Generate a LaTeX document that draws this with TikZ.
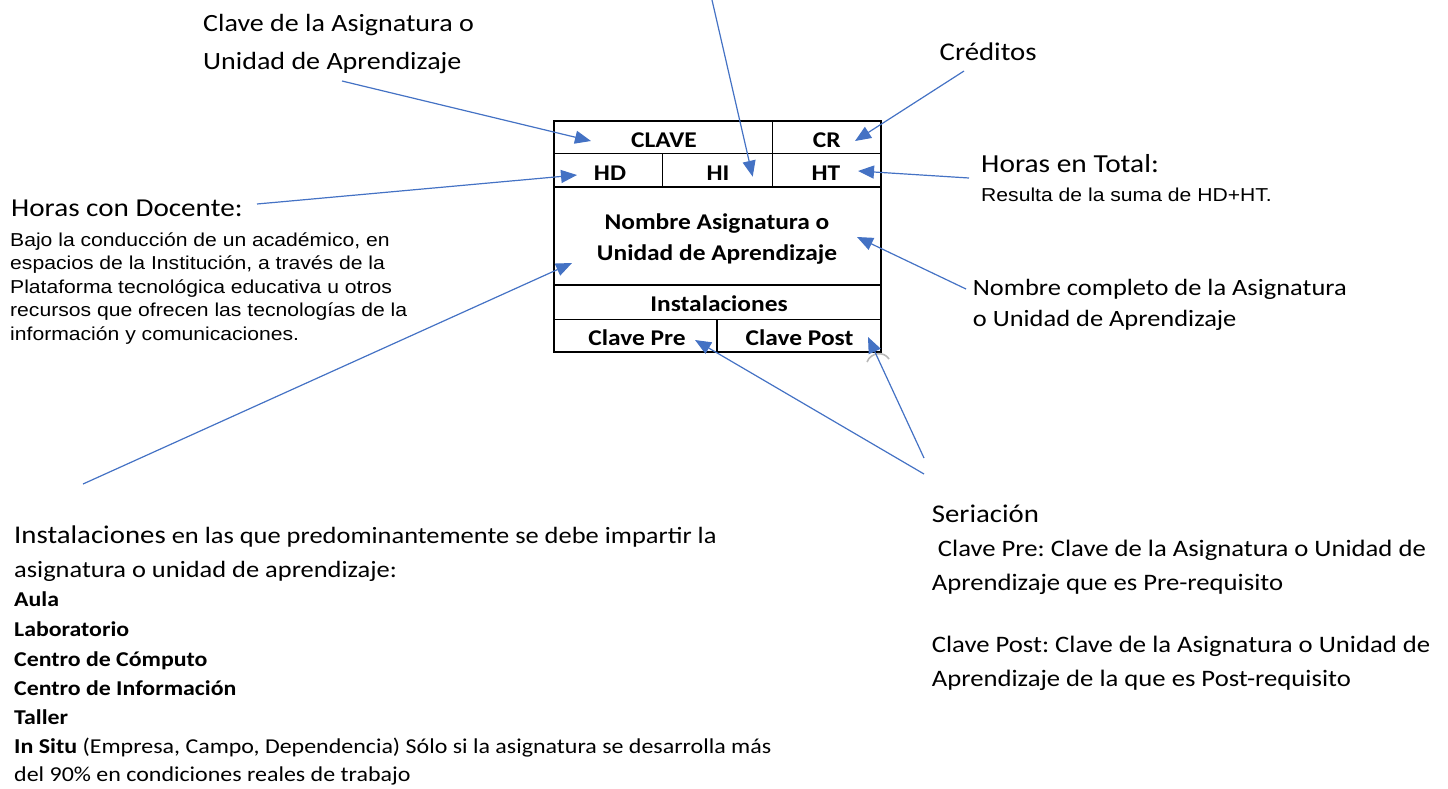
\documentclass[tikz,border=0pt]{standalone}
\usepackage{fontspec}
\usetikzlibrary{arrows.meta}
\newfontfamily\calfont[FakeStretch=1.13]{Carlito}
\newfontfamily\arifont[FakeStretch=1.13]{Liberation Sans}
\definecolor{arrowblue}{HTML}{4472C4}
\frenchspacing
\tikzset{
  lbl/.style={anchor=base west, inner sep=0pt, font=\calfont\fontsize{25.5}{30}\selectfont},
  body/.style={anchor=base west, inner sep=0pt, font=\arifont\fontsize{18.7}{22}\selectfont},
  low/.style={anchor=base west, inner sep=0pt, font=\calfont\fontsize{23.4}{28}\selectfont},
  lowb/.style={anchor=base west, inner sep=0pt, font=\calfont\bfseries\fontsize{21.1}{26}\selectfont},
  lows/.style={anchor=base west, inner sep=0pt, font=\calfont\fontsize{21.2}{26}\selectfont},
  ser/.style={anchor=base west, inner sep=0pt, font=\calfont\fontsize{23.6}{28}\selectfont},
  cell/.style={anchor=base, inner sep=0pt, font=\calfont\bfseries\fontsize{22.5}{27}\selectfont},
  grid/.style={line width=1.7pt, draw=black},
  pointer/.style={draw=arrowblue, line width=1.2pt, -{Triangle[length=16pt,width=13pt]}},
}
\begin{document}
\begin{tikzpicture}[x=1pt,y=-1pt]
\useasboundingbox (0,0) rectangle (1448,788);
% ---- the card ----
\draw[grid] (554,121) rectangle (881,352);
\draw[grid] (554,153.5) -- (881,153.5);
\draw[grid] (554,187) -- (881,187);
\draw[grid] (554,285) -- (881,285);
\draw[grid] (554,319.5) -- (881,319.5);
\draw[grid] (772.5,121) -- (772.5,187);
\draw[grid] (662.5,153.5) -- (662.5,187);
\draw[grid] (717,319.5) -- (717,352);
\node[cell] (cClave) at (664,147.3) {CLAVE};
\node[cell] (cCR) at (826.7,147.3) {CR};
\node[cell] (cHD) at (610,180) {HD};
\node[cell] (cHI) at (718,180) {HI};
\node[cell] (cHT) at (826,180) {HT};
\node[cell] (cNom1) at (717,229.3) {Nombre Asignatura o};
\node[cell] (cNom2) at (717,260.7) {Unidad de Aprendizaje};
\node[cell] (cInst) at (719,311.7) {Instalaciones};
\node[cell] (cPre) at (637,345) {Clave Pre};
\node[cell] (cPost) at (799.5,345) {Clave Post};
% small grey handle mark
\draw[gray!55, line width=1.6pt] (867,362) .. controls (871,352) and (884,351) .. (889,359);
% ---- labels ----
\node[lbl, font=\calfont\fontsize{24.8}{30}\selectfont] (tClave1) at (203,31) {Clave de la Asignatura o};
\node[lbl, font=\calfont\fontsize{24.8}{30}\selectfont] (tClave2) at (203,69) {Unidad de Aprendizaje};
\node[lbl] (tCred) at (939.5,60.7) {Créditos};
\node[lbl, font=\calfont\fontsize{26}{30}\selectfont] (tHT) at (981,172.7) {Horas en Total:};
\node[body] (tHTb) at (981,201.7) {Resulta de la suma de HD+HT.};
\node[lbl, font=\calfont\fontsize{25.8}{30}\selectfont] (tHD) at (11,216.7) {Horas con Docente:};
\node[body] (tHD1) at (10,246) {Bajo la conducción de un académico, en};
\node[body] (tHD2) at (10,269.5) {espacios de la Institución, a través de la};
\node[body] (tHD3) at (10,293) {Plataforma tecnológica educativa u otros};
\node[body] (tHD4) at (10,316.5) {recursos que ofrecen las tecnologías de la};
\node[body] (tHD5) at (10,340) {información y comunicaciones.};
\node[low] (tNom1) at (972.7,295) {Nombre completo de la Asignatura};
\node[low] (tNom2) at (972.7,326) {o Unidad de Aprendizaje};
\node[low] (tIn1) at (14,543.3) {{\fontsize{25.5}{30}\selectfont Instalaciones} en las que predominantemente se debe impartir la};
\node[low] (tIn2) at (14,577) {asignatura o unidad de aprendizaje:};
\node[lowb] (tIn3) at (14,606.7) {Aula};
\node[lowb] (tIn4) at (14,636) {Laboratorio};
\node[lowb] (tIn5) at (14,666.5) {Centro de Cómputo};
\node[lowb] (tIn6) at (14,695) {Centro de Información};
\node[lowb] (tIn7) at (14,724.3) {Taller};
\node[lows] (tIn8) at (14,753.3) {\textbf{In Situ} (Empresa, Campo, Dependencia) Sólo si la asignatura se desarrolla más};
\node[lows] (tIn9) at (14,781.7) {del 90\% en condiciones reales de trabajo};
\node[lbl] (tSer) at (931.7,522) {Seriación};
\node[ser] (tSer1) at (931.7,556) {\ Clave Pre: Clave de la Asignatura o Unidad de};
\node[ser] (tSer2) at (931.7,590) {Aprendizaje que es Pre-requisito};
\node[ser] (tSer3) at (931.7,652) {Clave Post: Clave de la Asignatura o Unidad de};
\node[ser] (tSer4) at (931.7,686) {Aprendizaje de la que es Post-requisito};
% ---- connector ends ----
\coordinate (sClave) at (342,81);   \coordinate (eClave) at (591,141);
\coordinate (sHI) at (712,0);       \coordinate (eHI) at (752.7,176.7);
\coordinate (sCR) at (964,71);      \coordinate (eCR) at (855,141);
\coordinate (sHT) at (969,178);     \coordinate (eHT) at (858,171);
\coordinate (sHD) at (257,204);     \coordinate (eHD) at (577,175);
\coordinate (sNom) at (966,289);    \coordinate (eNom) at (857,237);
\coordinate (sInst) at (83,484);    \coordinate (eInst) at (572,263);
\coordinate (sPre) at (924,474);    \coordinate (ePre) at (695,340);
\coordinate (sPost) at (924,458);   \coordinate (ePost) at (868,337);
\draw[pointer] (sClave) -- (eClave);
\draw[pointer] (sHI) -- (eHI);
\draw[pointer] (sCR) -- (eCR);
\draw[pointer] (sHT) -- (eHT);
\draw[pointer] (sHD) -- (eHD);
\draw[pointer] (sNom) -- (eNom);
\draw[pointer] (sInst) -- (eInst);
\draw[pointer] (sPre) -- (ePre);
\draw[pointer] (sPost) -- (ePost);
\end{tikzpicture}
\end{document}
